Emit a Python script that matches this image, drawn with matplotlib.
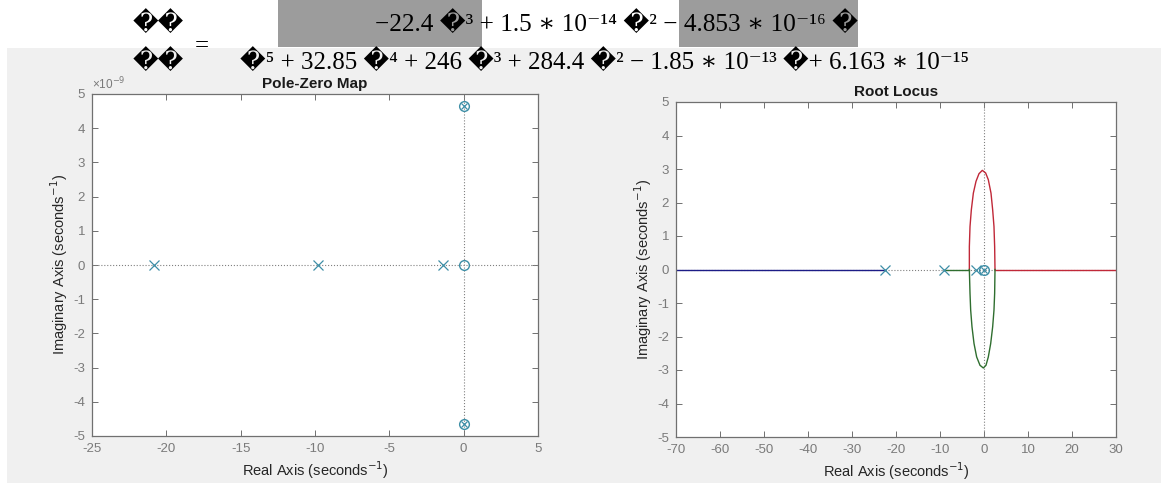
import matplotlib
matplotlib.use('Agg')
import matplotlib.pyplot as plt
from matplotlib.patches import Rectangle
import numpy as np

plt.rcParams['axes.unicode_minus'] = False

W, H = 1161, 483
R = '\ufffd'

# equation text (broken glyphs kept as in the picture)
num_text = '\u221222.4 ' + R + '\u00b3 + 1.5 \u2217 10\u207b\u00b9\u2074 ' + R + '\u00b2 \u2212 4.853 \u2217 10\u207b\u00b9\u2076 ' + R
den_text = (R + '\u2075 + 32.85 ' + R + '\u2074 + 246 ' + R + '\u00b3 + 284.4 ' + R + '\u00b2 \u2212 1.85 \u2217 10\u207b\u00b9\u00b3 '
            + R + '+ 6.163 \u2217 10\u207b\u00b9\u2075')

# pole-zero map values
pz_pole_re = [-20.8, -9.8, -1.4]
pz_pole_im = [0, 0, 0]
pz_zero_re = [0]
pz_zero_im = [0]
pz_both_re = [0, 0]
pz_both_im = [4.65e-9, -4.65e-9]

# root locus values
rl_pole_re = [-22.5, -9.1, -1.8]
rl_blue_x = [-70, -22.5]
rl_green_x = [-9.1, -3.33]
rl_red_x = [2.5, 30]
rl_upper_x = [-3.33, -3.33, -3.18, -2.88, -2.42, -1.82, -1.14, -0.38, 0.38, 0.98, 1.59, 1.97, 2.27, 2.42, 2.5]
rl_upper_y = [0.0, 0.68, 1.28, 1.78, 2.28, 2.63, 2.86, 2.96, 2.88, 2.68, 2.28, 1.78, 1.28, 0.68, 0.0]
rl_lower_x = [-3.33, -3.18, -3.03, -2.73, -2.27, -1.67, -0.91, -0.15, 0.45, 0.98, 1.52, 1.97, 2.27, 2.42, 2.5]
rl_lower_y = [0.0, -0.71, -1.21, -1.71, -2.21, -2.61, -2.86, -2.94, -2.86, -2.61, -2.21, -1.71, -1.21, -0.71, 0.0]

def fx(x):
    return x / W

def fy(y):
    return 1 - y / H

fig = plt.figure(figsize=(W / 100, H / 100), dpi=100)
fig.patch.set_facecolor('white')

# matlab figure background and word highlight boxes
fig.patches.append(Rectangle((fx(7), 0), 1 - fx(7), fy(48), transform=fig.transFigure,
                             facecolor='#f0f0f0', edgecolor='none', zorder=-10))
fig.patches.append(Rectangle((fx(278), fy(47)), fx(482 - 278), 47 / H, transform=fig.transFigure,
                             facecolor='#9c9c9c', edgecolor='none', zorder=-10))
fig.patches.append(Rectangle((fx(679), fy(47)), fx(858 - 679), 47 / H, transform=fig.transFigure,
                             facecolor='#9c9c9c', edgecolor='none', zorder=-10))

efont = ['Liberation Serif', 'DejaVu Serif', 'DejaVu Sans']
fig.text(fx(133), fy(31), R + R, family=efont, fontsize=18, color='black')
fig.text(fx(133), fy(69), R + R, family=efont, fontsize=18, color='black')
fig.text(fx(195), fy(52), '=', family=efont, fontsize=18, color='black')
fig.text(fx(375), fy(31), num_text, family=efont, fontsize=18.2, color='black')
fig.text(fx(240), fy(69), den_text, family=efont, fontsize=18, color='black')

afont = ['Liberation Sans', 'DejaVu Sans']
tick_c = '#7a7a7a'
mk_c = '#3d8ea6'


def style(ax):
    ax.set_facecolor('white')
    for s in ax.spines.values():
        s.set_color('#707070')
        s.set_linewidth(0.9)
    ax.tick_params(direction='in', top=True, right=True, length=4, width=0.7,
                   colors='#707070', labelcolor=tick_c, labelsize=9.5, pad=5)
    for lab in ax.get_xticklabels() + ax.get_yticklabels():
        lab.set_family(afont)


# pole-zero map
ax1 = fig.add_axes([fx(92), fy(436), fx(538 - 92), (436 - 94) / H])
ax1.axhline(0, color='#808080', ls=':', lw=0.8)
ax1.axvline(0, color='#808080', ls=':', lw=0.8)
ax1.plot(pz_pole_re, pz_pole_im, 'x', color=mk_c, ms=7, mew=0.9)
ax1.plot(pz_zero_re, pz_zero_im, 'o', color=mk_c, mfc='none', ms=7, mew=1.0)
ax1.plot(pz_both_re, pz_both_im, 'o', color=mk_c, mfc='none', ms=7, mew=1.0)
ax1.plot(pz_both_re, pz_both_im, 'x', color=mk_c, ms=5, mew=0.9)
ax1.set_xlim(-25, 5)
ax1.set_ylim(-5e-9, 5e-9)
ax1.set_xticks(np.arange(-25, 6, 5))
ax1.set_yticks(np.arange(-5, 6) * 1e-9)
ax1.set_yticklabels([str(v) for v in range(-5, 6)])
style(ax1)
ax1.set_title('Pole-Zero Map', fontsize=11, fontweight='bold', family=afont, pad=4, color='#1a1a1a')
ax1.set_xlabel('Real Axis (seconds$^{-1}$)', fontsize=10.5, family=afont, color='#262626', labelpad=3)
ax1.set_ylabel('Imaginary Axis (seconds$^{-1}$)', fontsize=10.5, family=afont, color='#262626', labelpad=2)
fig.text(fx(92), fy(84), '\u00d710$^{-9}$', fontsize=8.5, family=afont, color=tick_c, va='center')

# root locus
ax2 = fig.add_axes([fx(676), fy(437), fx(1116 - 676), (437 - 102) / H])
ax2.axhline(0, color='#808080', ls=':', lw=0.8)
ax2.axvline(0, color='#808080', ls=':', lw=0.8)
ax2.plot(rl_blue_x, [0, 0], color='#1c1c86', lw=1.0)
ax2.plot(rl_green_x, [0, 0], color='#2f6e2f', lw=1.0)
ax2.plot(rl_red_x, [0, 0], color='#c02838', lw=1.0)
ax2.plot(rl_upper_x, rl_upper_y, color='#c02838', lw=1.0)
ax2.plot(rl_lower_x, rl_lower_y, color='#2f6e2f', lw=1.0)
ax2.plot(rl_pole_re, [0, 0, 0], 'x', color=mk_c, ms=7, mew=0.9)
ax2.plot([0], [0], 'o', color=mk_c, mfc='none', ms=7, mew=1.0)
ax2.plot([0], [0], 'x', color=mk_c, ms=5, mew=0.9)
ax2.set_xlim(-70, 30)
ax2.set_ylim(-5, 5)
ax2.set_xticks(np.arange(-70, 31, 10))
ax2.set_yticks(np.arange(-5, 6))
style(ax2)
ax2.set_title('Root Locus', fontsize=11, fontweight='bold', family=afont, pad=4, color='#1a1a1a')
ax2.set_xlabel('Real Axis (seconds$^{-1}$)', fontsize=10.5, family=afont, color='#262626', labelpad=3)
ax2.set_ylabel('Imaginary Axis (seconds$^{-1}$)', fontsize=10.5, family=afont, color='#262626', labelpad=2)

fig.savefig('out.png', dpi=100, facecolor=fig.get_facecolor())
